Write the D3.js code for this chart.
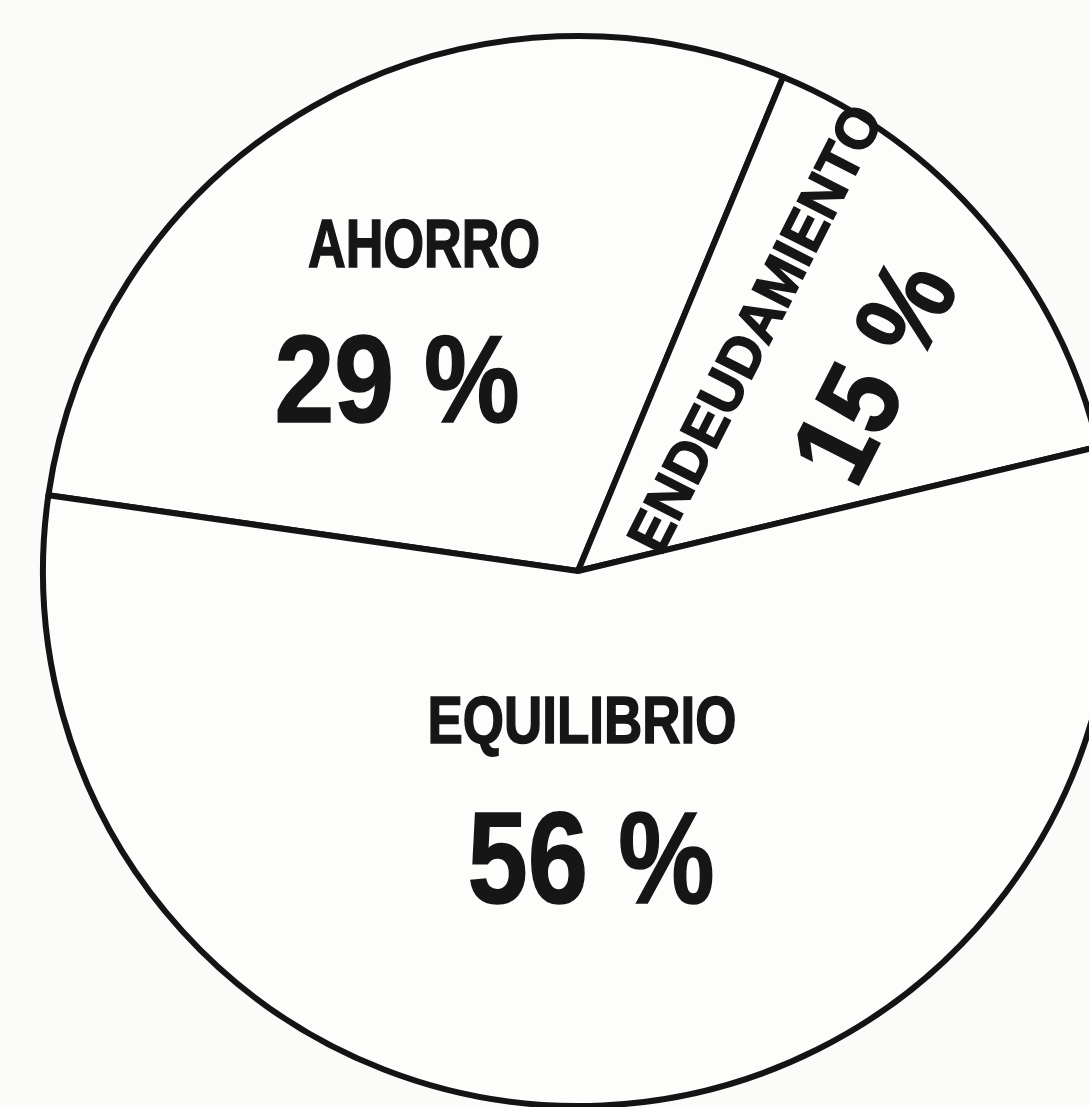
<!DOCTYPE html>
<html>
<head>
<meta charset="utf-8">
<script src="https://cdn.jsdelivr.net/npm/d3@7"></script>
<style>
  html, body { margin: 0; padding: 0; background: #fbfbf9; }
  svg { display: block; }
  text { font-family: "Liberation Sans", Arial, sans-serif; font-weight: bold; fill: #161616; stroke: #161616; stroke-width: 1.6px; }
</style>
</head>
<body>
<div id="chart"></div>
<script>
// slice data, clockwise from the left edge
var categories = ["AHORRO", "ENDEUDAMIENTO", "EQUILIBRIO"];
var values = [29, 15, 56];
var valueLabels = ["29 %", "15 %", "56 %"];

var width = 1089;
var height = 1107;
var cx = 578, cy = 571;
var radius = 535;

var svg = d3.select("#chart")
  .append("svg")
  .attr("width", width)
  .attr("height", height);

var rad = Math.PI / 180;
var start = -81.85 * rad;

var pie = d3.pie()
  .sort(null)
  .startAngle(start)
  .endAngle(start + 2 * Math.PI);

var arc = d3.arc().innerRadius(0).outerRadius(radius);

var slices = pie(values);

var g = svg.append("g").attr("transform", "translate(" + cx + "," + cy + ")");

g.selectAll("path.slice")
  .data(slices)
  .enter()
  .append("path")
  .attr("class", "slice")
  .attr("d", arc)
  .attr("fill", "#fdfdfb")
  .attr("stroke", "#141414")
  .attr("stroke-width", 6)
  .attr("stroke-linejoin", "round");

// label layout: name + value text for each slice (absolute page coords)
var layout = [
  { nx: 424, ny: 267, nsize: 68, nlen: 232, vx: 397, vy: 422, vsize: 124, vlen: 245, rot: 0 },
  { nx: 754, ny: 328, nsize: 58, nlen: 492, vx: 872, vy: 370, vsize: 112, vlen: 230, rot: -63 },
  { nx: 582, ny: 743, nsize: 67, nlen: 309, vx: 591, vy: 903, vsize: 130, vlen: 247, rot: 0 }
];

// condensed look: squeeze text horizontally (in its own frame) to a target width
function addLabel(str, x, y, size, target, rot) {
  var t = svg.append("text")
    .attr("text-anchor", "middle")
    .attr("dy", rot === 0 ? null : "0.36em")
    .style("font-size", size + "px")
    .text(str);
  var sx = target / t.node().getComputedTextLength();
  t.attr("transform", "translate(" + x + "," + y + ") rotate(" + rot + ") scale(" + sx + ",1)");
}

slices.forEach(function(s, i) {
  var L = layout[i];
  addLabel(categories[i], L.nx, L.ny, L.nsize, L.nlen, L.rot);
  addLabel(valueLabels[i], L.vx, L.vy, L.vsize, L.vlen, L.rot);
});
</script>
</body>
</html>
